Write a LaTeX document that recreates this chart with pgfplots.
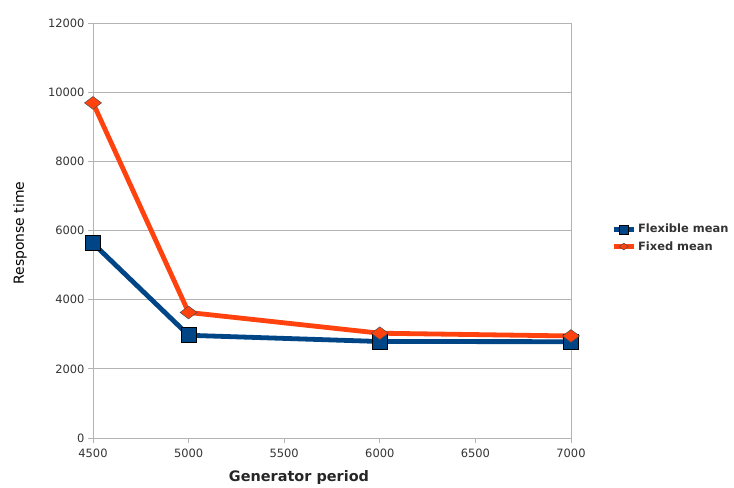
\documentclass[border=0pt]{standalone}
\usepackage{fontspec}
\setmainfont{DejaVu Sans}
\usepackage{pgfplots}
\pgfplotsset{compat=1.18}
\definecolor{flexblue}{HTML}{004586}
\definecolor{fixorange}{HTML}{FF420E}
\definecolor{gridgray}{HTML}{B3B3B3}
\definecolor{ticktext}{HTML}{333333}
\begin{document}
\begin{tikzpicture}
\begin{axis}[
  scale only axis,
  width=478bp, height=415bp,
  xmin=4500, xmax=7000,
  ymin=0, ymax=12000,
  xtick={4500,5000,5500,6000,6500,7000},
  ytick={0,2000,4000,6000,8000,10000,12000},
  scaled ticks=false,
  /pgf/number format/assume math mode=true,
  /pgf/number format/1000 sep={},
  ymajorgrids,
  grid style={gridgray, line width=0.8pt},
  axis line style={gridgray, line width=0.8pt},
  axis x line*=bottom,
  axis y line*=left,
  tick style={gridgray, line width=0.8pt},
  tick align=outside,
  major tick length=5bp,
  ticklabel style={font=\fontsize{11.5}{13}\selectfont, text=ticktext},
  xticklabel style={yshift=-2bp},
  legend style={draw=none, fill=none, inner sep=0pt, at={(1.084,0.482)}, anchor=west,
    font=\bfseries\fontsize{11.5}{13}\selectfont, text=ticktext, row sep=3bp},
  legend cell align=left,
  legend image code/.code={
    \draw[#1, mark repeat=2, mark phase=2, mark size=4.5bp]
      plot coordinates {(0bp,0bp) (10bp,0bp) (20bp,0bp)};},
  clip=false,
]
% right border of the plot area
\draw[gridgray, line width=0.8pt] (rel axis cs:1,0) -- (rel axis cs:1,1);

\addplot[flexblue, line width=4.8bp, mark=square*, mark size=7.5bp,
  mark options={fill=flexblue, draw=black, line width=0.7pt}]
  coordinates {(4500,5630) (5000,2970) (6000,2790) (7000,2785)};
\addlegendentry{Flexible mean}

\addplot[fixorange, line width=4.8bp, mark=diamond*, mark size=8.5bp,
  mark options={fill=fixorange, draw=black!70, line width=0.5pt, rotate=90}]
  coordinates {(4500,9690) (5000,3630) (6000,3030) (7000,2950)};
\addlegendentry{Fixed mean}
\end{axis}
% axis titles
\node[rotate=90, font=\fontsize{14}{16}\selectfont] at (-73bp,205bp) {Response time};
\node[font=\bfseries\fontsize{14.5}{16}\selectfont, text=black!85] at (206bp,-40bp) {Generator period};
\pgfresetboundingbox
\path[use as bounding box] (-93bp,-50bp) rectangle (641bp,438bp);
\end{tikzpicture}
\end{document}
